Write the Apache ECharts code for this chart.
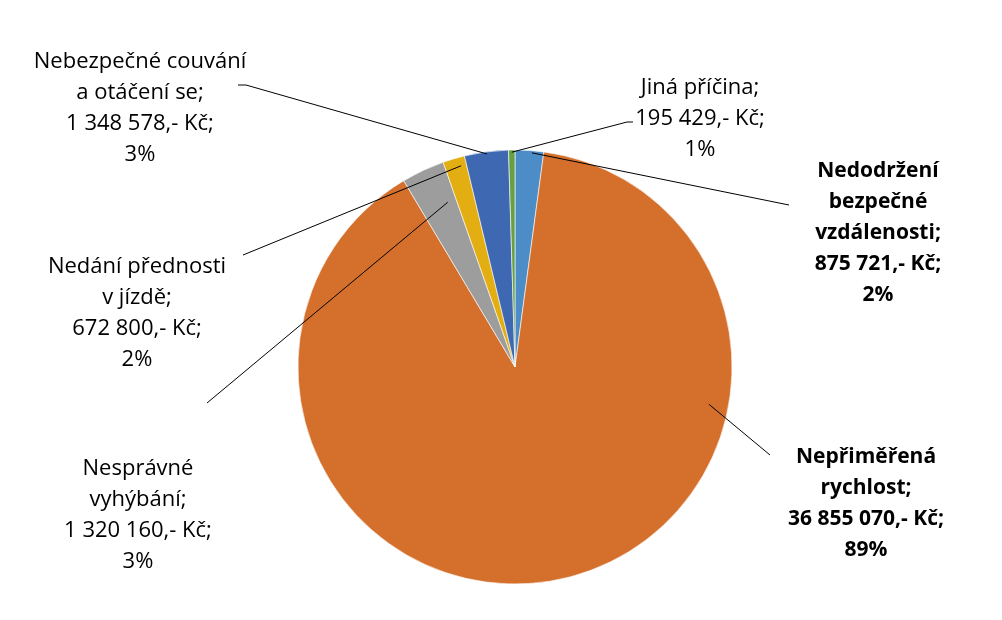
<!DOCTYPE html>
<html>
<head>
<meta charset="utf-8">
<script src="https://cdn.jsdelivr.net/npm/echarts@6/dist/echarts.min.js"></script>
<style>
html, body { margin: 0; padding: 0; background: #fff; }
#container { width: 1002px; height: 620px; }
</style>
</head>
<body>
<div id="container"></div>
<script>
// data
var names = [
    'Nedodržení\nbezpečné\nvzdálenosti',
    'Nepřiměřená\nrychlost',
    'Nesprávné\nvyhýbání',
    'Nedání přednosti\nv jízdě',
    'Nebezpečné couvání\na otáčení se',
    'Jiná příčina'
];
var values = [875721, 36855070, 1320160, 672800, 1348578, 195429];
var percents = ['2%', '89%', '3%', '2%', '3%', '1%'];
var boldLabels = [true, true, false, false, false, false];
var colors = ['#4C8DC8', '#D4702C', '#9D9D9D', '#E3AE12', '#3F68B3', '#66A044'];

// pie geometry
var pieCenter = [515, 367];
var pieRadius = 217;

// label placement (center of each text block)
var labelPos = [
    [878, 233],
    [866, 504],
    [138, 515],
    [137, 313],
    [140, 108],
    [700, 119]
];
// where the leader line meets the label
var lineEnd = [
    [789, 205],
    [770, 455],
    [207, 403],
    [243, 255],
    [238, 85],
    [633, 122]
];
// where the leader line meets its slice: [share of slice angle, share of radius]
var lineAnchor = [
    [0.59, 0.99],
    [0.29, 0.91],
    [0.75, 0.82],
    [0.74, 0.96],
    [0.51, 0.99],
    [0.5, 0.99]
];
// short horizontal stub at the label end (px, towards the pie)
var lineStub = [0, 0, 0, 0, 8, -6];

function formatKc(v) {
    return String(v).replace(/\B(?=(\d{3})+(?!\d))/g, ' ') + ',- Kč';
}

var total = 0;
for (var t = 0; t < values.length; t++) { total += values[t]; }

function sliceAnchor(idx) {
    var before = 0;
    for (var k = 0; k < idx; k++) { before += values[k]; }
    var a = (before + values[idx] * lineAnchor[idx][0]) / total * Math.PI * 2;
    var r = pieRadius * lineAnchor[idx][1];
    return [pieCenter[0] + r * Math.sin(a), pieCenter[1] - r * Math.cos(a)];
}

var dom = document.getElementById('container');
var myChart = echarts.init(dom);
var option = null;

var pieData = [];
var labelData = [];
for (var i = 0; i < names.length; i++) {
    pieData.push({
        name: names[i],
        value: values[i],
        itemStyle: { color: colors[i] }
    });
    labelData.push({
        name: names[i],
        value: values[i],
        label: {
            fontWeight: boldLabels[i] ? 'bold' : 'normal',
            fontSize: boldLabels[i] ? 21 : 22
        }
    });
}

option = {
    backgroundColor: '#ffffff',
    animation: false,
    series: [
        {
            // the slices
            name: 'Škody',
            type: 'pie',
            z: 2,
            center: pieCenter,
            radius: pieRadius,
            startAngle: 90,
            clockwise: true,
            silent: true,
            data: pieData,
            itemStyle: {
                borderColor: '#ffffff',
                borderWidth: 0.6
            },
            label: { show: false },
            labelLine: { show: false }
        },
        {
            // invisible copy on top, carries labels and leader lines over the slices
            name: 'Popisky',
            type: 'pie',
            z: 5,
            center: pieCenter,
            radius: pieRadius,
            startAngle: 90,
            clockwise: true,
            silent: true,
            avoidLabelOverlap: false,
            data: labelData,
            itemStyle: {
                color: 'rgba(0,0,0,0)',
                borderWidth: 0
            },
            label: {
                show: true,
                fontFamily: '"Open Sans", Lato, sans-serif',
                lineHeight: 31,
                color: '#000000',
                align: 'center',
                formatter: function (p) {
                    return p.name + ';\n' + formatKc(p.value) + ';\n' + percents[p.dataIndex];
                }
            },
            labelLine: {
                show: true,
                length: 10,
                length2: 10,
                lineStyle: { color: '#000000', width: 1, opacity: 1 }
            },
            labelLayout: function (params) {
                var idx = params.dataIndex;
                var pos = labelPos[idx];
                var end = lineEnd[idx];
                var mid = [end[0] + lineStub[idx], end[1]];
                return {
                    x: pos[0],
                    y: pos[1],
                    align: 'center',
                    verticalAlign: 'middle',
                    labelLinePoints: [sliceAnchor(idx), mid, end]
                };
            }
        }
    ]
};

if (option && typeof option === "object") {
    myChart.setOption(option, true);
}
</script>
</body>
</html>
